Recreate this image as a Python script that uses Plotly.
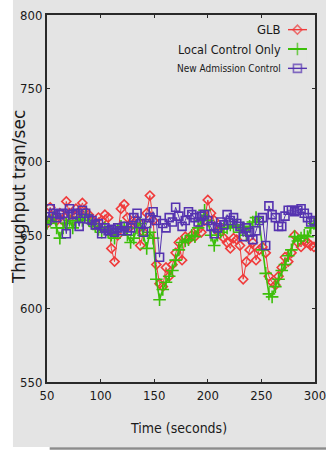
import plotly.graph_objects as go

# ---- data ----
time_s = [50 + 3 * i for i in range(84)]

glb = [658, 669, 662, 660, 665, 660, 673, 665, 660, 668, 666, 672, 666, 664, 660, 658, 662, 660, 664, 662,
       641, 632, 650, 668, 671, 662, 656, 658, 660, 643, 652, 665, 677, 660, 630, 617, 615, 628, 622, 630,
       638, 645, 633, 649, 647, 650, 649, 654, 652, 660, 674, 665, 660, 653, 655, 648, 645, 641, 648, 647,
       643, 620, 632, 640, 645, 633, 640, 642, 638, 622, 618, 616, 622, 628, 635, 632, 638, 650, 645, 642,
       647, 645, 643, 642]

local_only = [658, 660, 662, 655, 648, 655, 658, 660, 655, 659, 662, 660, 664, 660, 658, 656, 654, 652, 655, 652,
              650, 648, 654, 656, 655, 650, 645, 648, 655, 658, 650, 641, 652, 648, 620, 606, 613, 618, 622, 626,
              633, 640, 645, 646, 647, 650, 649, 655, 660, 667, 660, 650, 643, 650, 652, 655, 655, 657, 656, 657,
              652, 655, 650, 656, 659, 662, 659, 640, 624, 610, 608, 615, 620, 626, 630, 636, 640, 649, 646, 648,
              650, 649, 655, 658]

new_admission = [660, 668, 665, 662, 664, 665, 651, 668, 664, 665, 656, 667, 665, 661, 660, 657, 658, 651, 655, 653,
                 654, 652, 655, 653, 656, 653, 655, 662, 665, 658, 652, 658, 662, 666, 660, 635, 658, 655, 662, 659,
                 669, 663, 656, 660, 666, 664, 662, 659, 663, 664, 660, 656, 651, 655, 659, 657, 664, 660, 662, 658,
                 656, 649, 655, 652, 647, 653, 660, 662, 643, 670, 664, 662, 656, 656, 663, 667, 667, 666, 667, 668,
                 665, 662, 659, 660]

series_names = ["GLB", "Local Control Only", "New Admission Control"]
x_ticks = [50, 100, 150, 200, 250, 300]
y_ticks = [550, 600, 650, 700, 750, 800]

# ---- styles ----
RED = "#f03a3a"
GREEN = "#3cbf0a"
BLUE = "#5533b0"
GRAY = "#e4e4e4"
AX = "#2a2a2a"
TXT = "#1a1a1a"
NARROW = "Liberation Sans Narrow, DejaVu Sans Condensed, Arial Narrow, Liberation Sans, sans-serif"

styles = [
    dict(color=RED, symbol="diamond-open", size=7, lw=1.0),
    dict(color=GREEN, symbol="cross-thin-open", size=9, lw=1.6),
    dict(color=BLUE, symbol="square-open", size=8, lw=1.0),
]
values = [glb, local_only, new_admission]

fig = go.Figure()

for name, vals, st in zip(series_names, values, styles):
    fig.add_trace(go.Scatter(
        x=time_s, y=vals, mode="lines+markers", name=name, showlegend=False,
        line=dict(color=st["color"], width=st["lw"]),
        marker=dict(symbol=st["symbol"], size=st["size"], color=st["color"],
                    line=dict(color=st["color"], width=1.6)),
    ))

# legend samples drawn on an overlay axis (rows 2.5, 1.5, 0.5)
rows = [2.5, 1.5, 0.5]
for name, row, st in zip(series_names, rows, styles):
    fig.add_trace(go.Scatter(
        x=[0, 0.5, 1], y=[row, row, row], mode="lines+markers", showlegend=False,
        xaxis="x2", yaxis="y2", hoverinfo="skip",
        line=dict(color=st["color"], width=st["lw"] + 0.4),
        marker=dict(symbol=st["symbol"], size=[0, st["size"], 0], color=st["color"],
                    line=dict(color=st["color"], width=1.6)),
    ))

legend_fonts = [
    dict(family=NARROW, size=13, color=TXT),
    dict(family=NARROW, size=12.5, color=TXT),
    dict(family=NARROW, size=10, color=TXT),
]
annotations = []
for name, row, f in zip(series_names, rows, legend_fonts):
    annotations.append(dict(
        x=0.8806, xref="paper", y=row, yref="y2", text=name, showarrow=False,
        xanchor="right", yanchor="middle", font=f,
    ))

# axis titles
annotations.append(dict(
    x=-0.1065, xref="paper", y=0.505, yref="paper", text="Throughput tran/sec", showarrow=False,
    textangle=-90, xanchor="center", yanchor="middle",
    font=dict(family="DejaVu Sans", size=17, color=TXT),
))
annotations.append(dict(
    x=0.4925, xref="paper", y=-0.125, yref="paper", text="Time (seconds)", showarrow=False,
    xanchor="center", yanchor="middle",
    font=dict(family=NARROW, size=14, color=TXT),
))

shapes = [
    # gray page panel
    dict(type="rect", xref="paper", yref="paper", x0=-0.127, x1=1.05, y0=-0.177, y1=1.05,
         fillcolor=GRAY, line=dict(width=0), layer="below"),
    # bottom shadow
    dict(type="line", xref="paper", yref="paper", x0=0.01, x1=1.05, y0=-0.1812, y1=-0.1812,
         line=dict(color="#8c8c8c", width=2.5), layer="below"),
]

fig.update_layout(
    width=326, height=451,
    margin=dict(l=47, r=11, t=15, b=69, autoexpand=False),
    paper_bgcolor="white",
    plot_bgcolor=GRAY,
    showlegend=False,
    annotations=annotations,
    shapes=shapes,
    xaxis=dict(
        range=[50, 300], tickvals=x_ticks, ticktext=[str(v) for v in x_ticks],
        showgrid=False, zeroline=False, showline=True, linecolor=AX, linewidth=2,
        mirror="ticks", ticks="inside", ticklen=3, tickcolor=AX, tickwidth=1,
        tickfont=dict(family=NARROW, size=13, color=TXT), automargin=False,
        ticklabeloverflow="allow",
    ),
    yaxis=dict(
        range=[550, 800], tickvals=y_ticks, ticktext=[str(v) for v in y_ticks],
        showgrid=False, zeroline=False, showline=True, linecolor=AX, linewidth=2,
        mirror="ticks", ticks="inside", ticklen=3, tickcolor=AX, tickwidth=1,
        tickfont=dict(family=NARROW, size=13, color=TXT), automargin=False,
        ticklabeloverflow="allow",
    ),
    xaxis2=dict(domain=[0.899, 0.970], range=[0, 1], anchor="y2", visible=False, fixedrange=True),
    yaxis2=dict(domain=[0.8283, 0.9864], range=[0, 3], anchor="x2", visible=False, fixedrange=True),
)

fig.write_html(
    "out.html",
    config={"displayModeBar": False},
    post_script="document.body.style.margin='0';document.body.style.overflow='hidden';",
)
